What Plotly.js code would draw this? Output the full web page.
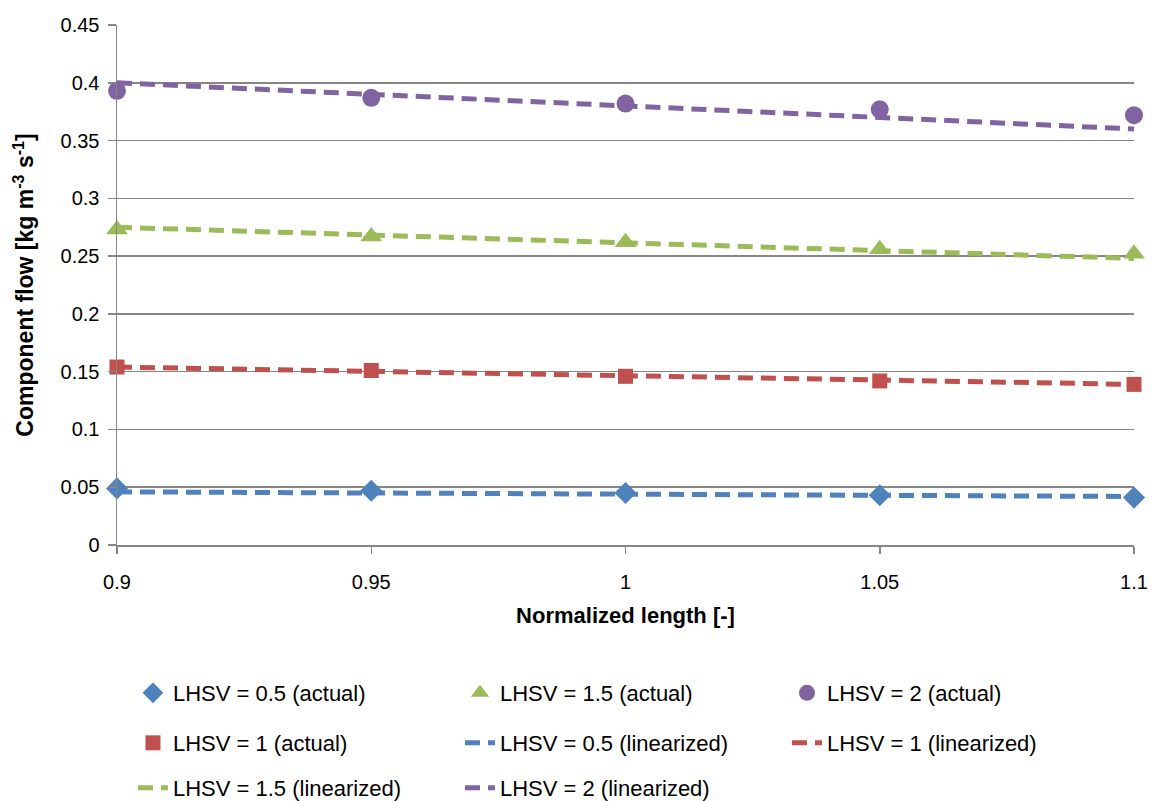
<!DOCTYPE html>
<html>
<head>
<meta charset="utf-8">
<script src="https://cdn.plot.ly/plotly-3.0.1.min.js"></script>
<style>html,body{margin:0;padding:0;background:#fff;}#chart{width:1154px;height:801px;}</style>
</head>
<body>
<div id="chart"></div>
<script>
// Data
const xVals = [0.9, 0.95, 1.0, 1.05, 1.1];

const lhsv05Actual = [0.049, 0.047, 0.045, 0.043, 0.041];
const lhsv1Actual  = [0.154, 0.151, 0.146, 0.142, 0.139];
const lhsv15Actual = [0.273, 0.267, 0.262, 0.256, 0.252];
const lhsv2Actual  = [0.393, 0.387, 0.382, 0.377, 0.372];

const lhsv05Lin = [0.046, 0.045, 0.044, 0.043, 0.042];
const lhsv1Lin  = [0.154, 0.150, 0.146, 0.143, 0.139];
const lhsv15Lin = [0.275, 0.268, 0.261, 0.255, 0.248];
const lhsv2Lin  = [0.400, 0.390, 0.380, 0.370, 0.360];

const xTicks = [0.9, 0.95, 1, 1.05, 1.1];
const xTickText = ['0.9', '0.95', '1', '1.05', '1.1'];
const yTicks = [0, 0.05, 0.1, 0.15, 0.2, 0.25, 0.3, 0.35, 0.4, 0.45];
const yTickText = ['0', '0.05', '0.1', '0.15', '0.2', '0.25', '0.3', '0.35', '0.4', '0.45'];

const BLUE = '#4F81BD', RED = '#C0504D', GREEN = '#9BBB59', PURPLE = '#8064A2';
const FONT = 'Liberation Sans, Arial, sans-serif';
const DASH = '15px,8px';

function markerTrace(y, name, color, symbol, size, legend, rank) {
  return {x: xVals, y: y, name: name, type: 'scatter', mode: 'markers',
    marker: {color: color, symbol: symbol, size: size}, legend: legend, legendrank: rank, cliponaxis: false};
}
function lineTrace(y, name, color, legend, rank) {
  return {x: xVals, y: y, name: name, type: 'scatter', mode: 'lines',
    line: {color: color, width: 5, dash: DASH}, legend: legend, legendrank: rank};
}

const data = [
  lineTrace(lhsv05Lin, 'LHSV = 0.5 (linearized)', BLUE, 'legend2', 2),
  lineTrace(lhsv1Lin, 'LHSV = 1 (linearized)', RED, 'legend2', 3),
  lineTrace(lhsv15Lin, 'LHSV = 1.5 (linearized)', GREEN, 'legend3', 1),
  lineTrace(lhsv2Lin, 'LHSV = 2 (linearized)', PURPLE, 'legend3', 2),
  markerTrace(lhsv05Actual, 'LHSV = 0.5 (actual)', BLUE, 'diamond', 17, 'legend', 1),
  markerTrace(lhsv15Actual, 'LHSV = 1.5 (actual)', GREEN, 'triangle-up', 19, 'legend', 2),
  markerTrace(lhsv2Actual, 'LHSV = 2 (actual)', PURPLE, 'circle', 18, 'legend', 3),
  markerTrace(lhsv1Actual, 'LHSV = 1 (actual)', RED, 'square', 15, 'legend2', 1),
];

const legendBase = {orientation: 'h', xanchor: 'left', yanchor: 'middle', x: 0.0157,
  entrywidth: 282, entrywidthmode: 'pixels', font: {family: FONT, size: 22, color: '#000'},
  bgcolor: 'rgba(0,0,0,0)', itemwidth: 30, traceorder: 'normal'};

const layout = {
  width: 1154, height: 801,
  margin: {l: 117, r: 20, t: 25, b: 256, autoexpand: false},
  paper_bgcolor: '#fff', plot_bgcolor: '#fff',
  font: {family: FONT, size: 20, color: '#000'},
  showlegend: true,
  legend: Object.assign({}, legendBase, {y: -0.2846}),
  legend2: Object.assign({}, legendBase, {y: -0.3808}),
  legend3: Object.assign({}, legendBase, {y: -0.4673}),
  xaxis: {
    range: [0.9, 1.1], tickvals: xTicks, ticktext: xTickText,
    showgrid: false, zeroline: false, showline: true, linecolor: '#868686', linewidth: 1.5,
    ticks: 'outside', ticklen: 7, tickcolor: '#868686', tickwidth: 1.5,
    ticklabelstandoff: 11,
    tickfont: {family: FONT, size: 20, color: '#000'},
    title: {text: '<b>Normalized length [-]</b>', font: {family: FONT, size: 22, color: '#000'}, standoff: 16}
  },
  yaxis: {
    range: [0, 0.45], tickvals: yTicks, ticktext: yTickText,
    showgrid: true, gridcolor: '#868686', gridwidth: 1.5,
    zeroline: false, showline: true, linecolor: '#868686', linewidth: 1.5,
    ticks: 'outside', ticklen: 8, tickcolor: '#868686', tickwidth: 1.5,
    ticklabelstandoff: 4,
    tickfont: {family: FONT, size: 20, color: '#000'},
    title: {text: '<b>Component flow [kg m<sup>-3</sup> s<sup>-1</sup>]</b>', font: {family: FONT, size: 23, color: '#000'}, standoff: 20}
  }
};

Plotly.newPlot('chart', data, layout, {displayModeBar: false, staticPlot: true});
</script>
</body>
</html>
